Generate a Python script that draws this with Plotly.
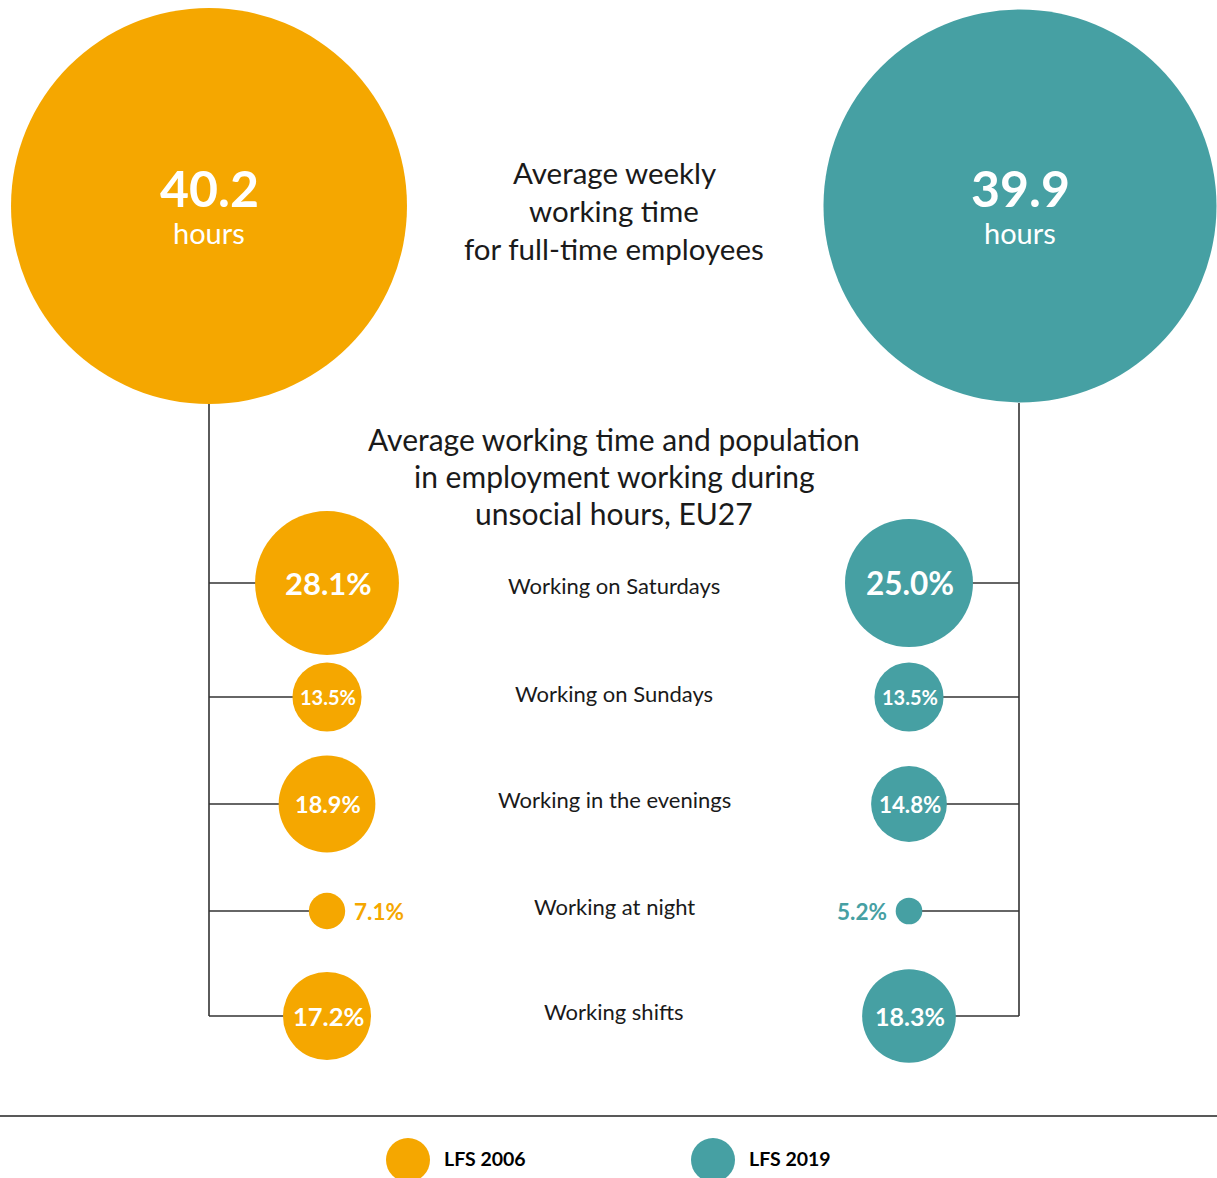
import plotly.graph_objects as go

# ---------------- data ----------------
series_names = ["LFS 2006", "LFS 2019"]
avg_weekly_hours = [40.2, 39.9]
categories = [
    "Working on Saturdays",
    "Working on Sundays",
    "Working in the evenings",
    "Working at night",
    "Working shifts",
]
share_2006 = [28.1, 13.5, 18.9, 7.1, 17.2]
share_2019 = [25.0, 13.5, 14.8, 5.2, 18.3]

# ---------------- layout / style constants ----------------
W, H = 1217, 1178
ORANGE = "#F5A700"
TEAL = "#46A0A3"
TXT = "#1a1a1a"
LINE = "#333333"
FONT = "Lato"

BIG_X = [209, 1020]
BIG_Y = 206
BIG_R_PER_HOUR = 4.925
SMALL_X = [327, 909]
SPINE_X = [209, 1019]
SPINE_TOP = 403
ROW_Y = [583, 697, 804, 911, 1016]
CAT_LABEL_Y = [585, 693, 799, 906, 1011]
SMALL_R_PER_PCT = 2.56
CENTER_X = 614
colors = [ORANGE, TEAL]
LABEL_FONT = [[31, 20, 23.5, 22.5, 25.5], [31.5, 20, 22.3, 22.5, 25]]

fig = go.Figure()
shapes = []
annotations = []

# spines and connectors
for s in range(2):
    shapes.append(dict(type="line", xref="x", yref="y", x0=SPINE_X[s], x1=SPINE_X[s],
                       y0=SPINE_TOP, y1=ROW_Y[-1], line=dict(color=LINE, width=1.6), layer="below"))
    for ry in ROW_Y:
        shapes.append(dict(type="line", xref="x", yref="y", x0=SPINE_X[s], x1=SMALL_X[s],
                           y0=ry, y1=ry, line=dict(color=LINE, width=1.6), layer="below"))

# big circles
for s in range(2):
    fig.add_trace(go.Scatter(
        x=[BIG_X[s]], y=[BIG_Y], mode="markers",
        marker=dict(size=[2 * BIG_R_PER_HOUR * avg_weekly_hours[s]], sizemode="diameter",
                    color=colors[s], opacity=1, line=dict(width=0)),
        hoverinfo="skip", showlegend=False, cliponaxis=False))
    annotations.append(dict(x=BIG_X[s], y=BIG_Y - 18, xref="x", yref="y",
                            text=f"<b>{avg_weekly_hours[s]:.1f}</b>", showarrow=False,
                            font=dict(family=FONT, size=50, color="white"),
                            xanchor="center", yanchor="middle"))
    annotations.append(dict(x=BIG_X[s], y=BIG_Y + 26, xref="x", yref="y",
                            text="hours", showarrow=False,
                            font=dict(family=FONT, size=29, color="white"),
                            xanchor="center", yanchor="middle"))

# small circles
for s, vals in enumerate([share_2006, share_2019]):
    fig.add_trace(go.Scatter(
        x=[SMALL_X[s]] * len(vals), y=ROW_Y, mode="markers",
        marker=dict(size=[2 * SMALL_R_PER_PCT * v for v in vals], sizemode="diameter",
                    color=colors[s], opacity=1, line=dict(width=0)),
        hoverinfo="skip", showlegend=False, cliponaxis=False))
    for i, (v, ry) in enumerate(zip(vals, ROW_Y)):
        r = SMALL_R_PER_PCT * v
        fs = LABEL_FONT[s][i]
        if v < 10:
            if s == 0:
                annotations.append(dict(x=SMALL_X[s] + r + 7, y=ry, xref="x", yref="y",
                                        text=f"<b>{v:.1f}%</b>", showarrow=False,
                                        font=dict(family=FONT, size=fs, color=colors[s]),
                                        xanchor="left", yanchor="middle"))
            else:
                annotations.append(dict(x=SMALL_X[s] - r - 7, y=ry, xref="x", yref="y",
                                        text=f"<b>{v:.1f}%</b>", showarrow=False,
                                        font=dict(family=FONT, size=fs, color=colors[s]),
                                        xanchor="right", yanchor="middle"))
        else:
            annotations.append(dict(x=SMALL_X[s] + 1, y=ry, xref="x", yref="y",
                                    text=f"<b>{v:.1f}%</b>", showarrow=False,
                                    font=dict(family=FONT, size=fs, color="white"),
                                    xanchor="center", yanchor="middle"))

# category labels
for c, ly in zip(categories, CAT_LABEL_Y):
    annotations.append(dict(x=CENTER_X, y=ly, xref="x", yref="y", text=c, showarrow=False,
                            font=dict(family=FONT, size=22, color=TXT),
                            xanchor="center", yanchor="middle"))

# titles
title1 = ["Average weekly", "working time", "for full-time employees"]
for i, t in enumerate(title1):
    annotations.append(dict(x=CENTER_X, y=172 + 38 * i, xref="x", yref="y", text=t, showarrow=False,
                            font=dict(family=FONT, size=29.5, color=TXT),
                            xanchor="center", yanchor="middle"))
title2 = ["Average working time and population", "in employment working during", "unsocial hours, EU27"]
for i, t in enumerate(title2):
    annotations.append(dict(x=CENTER_X, y=439 + 37 * i, xref="x", yref="y", text=t, showarrow=False,
                            font=dict(family=FONT, size=30, color=TXT),
                            xanchor="center", yanchor="middle"))

# separator
shapes.append(dict(type="line", xref="x", yref="y", x0=0, x1=W, y0=1116, y1=1116,
                   line=dict(color="#222222", width=1.5)))

# legend
LEG_X = [408, 713]
LEG_Y = 1160
for s in range(2):
    shapes.append(dict(type="circle", xref="x", yref="y",
                       x0=LEG_X[s] - 22, x1=LEG_X[s] + 22, y0=LEG_Y - 22, y1=LEG_Y + 22,
                       fillcolor=colors[s], line=dict(width=0)))
    annotations.append(dict(x=LEG_X[s] + 34, y=LEG_Y - 2, xref="x", yref="y",
                            text=f"<b>{series_names[s]}</b>", showarrow=False,
                            font=dict(family=FONT, size=19.5, color="black"),
                            xanchor="left", yanchor="middle"))

fig.update_layout(
    width=W, height=H, autosize=False,
    margin=dict(l=0, r=0, t=0, b=0, pad=0),
    paper_bgcolor="white", plot_bgcolor="white",
    xaxis=dict(range=[0, W], visible=False, fixedrange=True),
    yaxis=dict(range=[H, 0], visible=False, fixedrange=True),
    shapes=shapes, annotations=annotations, showlegend=False,
)

fig.write_html("out.html", config={"displayModeBar": False},
               post_script="document.body.style.margin='0px';document.body.style.overflow='hidden';")
